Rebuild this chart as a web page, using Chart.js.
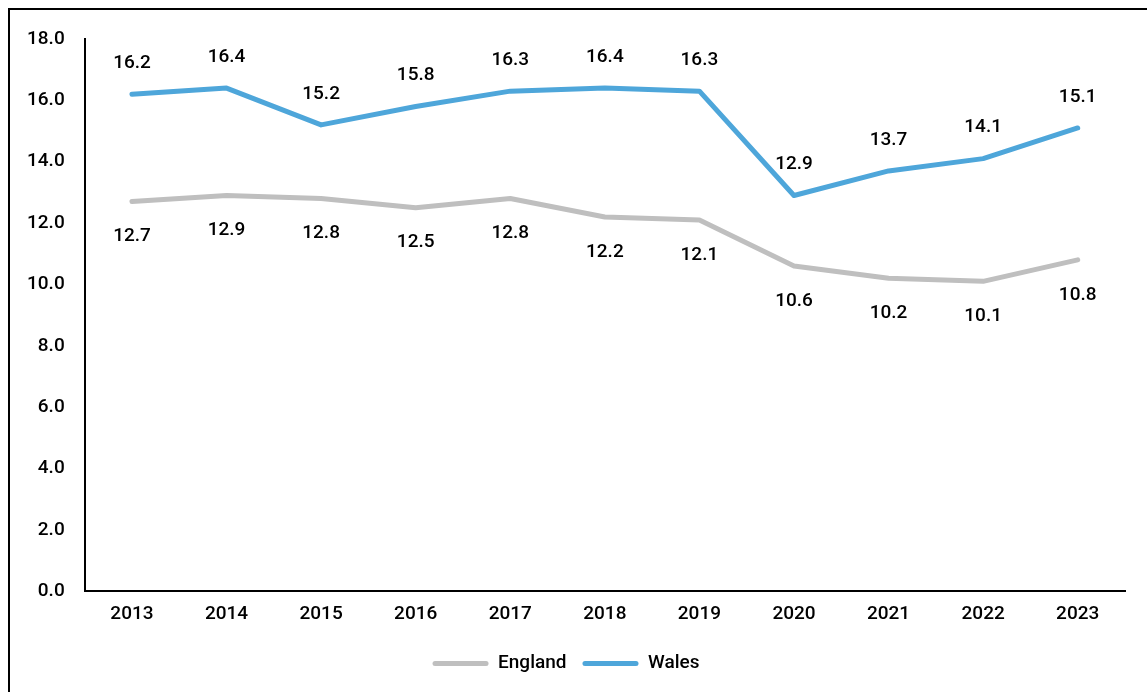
<!DOCTYPE html>
<html>
<head>
<meta charset="utf-8">
<script src="https://cdn.jsdelivr.net/npm/chart.js@4"></script>
<style>
    html, body { margin: 0; padding: 0; background: #fff; overflow: hidden; }
    #frame {
        position: absolute; left: 8px; top: 8px;
        width: 1300px; height: 900px;
        border: 2px solid #000;
    }
    #wrap { position: absolute; left: 0; top: 0; width: 1147px; height: 692px; }
</style>
</head>
<body>
<div id="frame"></div>
<div id="wrap"><canvas id="chart"></canvas></div>
<script>
const years = ['2013', '2014', '2015', '2016', '2017', '2018', '2019', '2020', '2021', '2022', '2023'];
const england = [12.7, 12.9, 12.8, 12.5, 12.8, 12.2, 12.1, 10.6, 10.2, 10.1, 10.8];
const wales = [16.2, 16.4, 15.2, 15.8, 16.3, 16.4, 16.3, 12.9, 13.7, 14.1, 15.1];

const fontFamily = 'Roboto, "DejaVu Sans", sans-serif';

// simple value labels: England below the line, Wales above
const valueLabels = {
    id: 'valueLabels',
    afterDatasetsDraw(chart) {
        const ctx = chart.ctx;
        ctx.save();
        ctx.font = '500 19px ' + fontFamily;
        ctx.fillStyle = '#000';
        ctx.textAlign = 'center';
        ctx.textBaseline = 'middle';
        chart.data.datasets.forEach((ds, i) => {
            const meta = chart.getDatasetMeta(i);
            const offset = ds.label === 'Wales' ? -31 : 35;
            meta.data.forEach((pt, j) => {
                ctx.fillText(ds.data[j].toFixed(1), pt.x, pt.y + offset);
            });
        });
        ctx.restore();
    }
};

new Chart(document.getElementById('chart').getContext('2d'), {
    type: 'line',
    data: {
        labels: years,
        datasets: [
            {
                label: 'England',
                data: england,
                borderColor: '#BFBFBF',
                backgroundColor: '#BFBFBF',
                borderWidth: 5,
                pointRadius: 0,
                tension: 0,
                borderCapStyle: 'round',
                borderJoinStyle: 'round',
            },
            {
                label: 'Wales',
                data: wales,
                borderColor: '#4EA6DA',
                backgroundColor: '#4EA6DA',
                borderWidth: 5,
                pointRadius: 0,
                tension: 0,
                borderCapStyle: 'round',
                borderJoinStyle: 'round',
            },
        ],
    },
    options: {
        responsive: true,
        maintainAspectRatio: false,
        animation: false,
        layout: { padding: { left: 7, right: 22, top: 39, bottom: 9 } },
        plugins: {
            tooltip: { enabled: false },
            legend: {
                position: 'bottom',
                labels: {
                    boxWidth: 56,
                    boxHeight: 5,
                    padding: 16,
                    color: '#000',
                    font: { family: fontFamily, size: 19, weight: 500 },
                    useBorderRadius: true,
                    borderRadius: 2.5,
                    generateLabels(chart) {
                        return chart.data.datasets.map((ds, i) => ({
                            text: ds.label,
                            fillStyle: ds.borderColor,
                            strokeStyle: ds.borderColor,
                            lineWidth: 0,
                            fontColor: '#000',
                            borderRadius: 2.5,
                            datasetIndex: i,
                        }));
                    },
                },
            },
        },
        scales: {
            x: {
                offset: true,
                grid: { display: false, drawTicks: false },
                border: { color: '#000', width: 2 },
                ticks: {
                    padding: 12,
                    color: '#000',
                    maxRotation: 0,
                    font: { family: fontFamily, size: 19, weight: 500 },
                },
            },
            y: {
                min: 0,
                max: 18,
                grid: { display: false, drawTicks: false },
                border: { color: '#000', width: 2 },
                ticks: {
                    stepSize: 2,
                    padding: 20,
                    color: '#000',
                    font: { family: fontFamily, size: 19, weight: 500 },
                    callback: value => value.toFixed(1),
                },
            },
        },
    },
    plugins: [valueLabels],
});
</script>
</body>
</html>
